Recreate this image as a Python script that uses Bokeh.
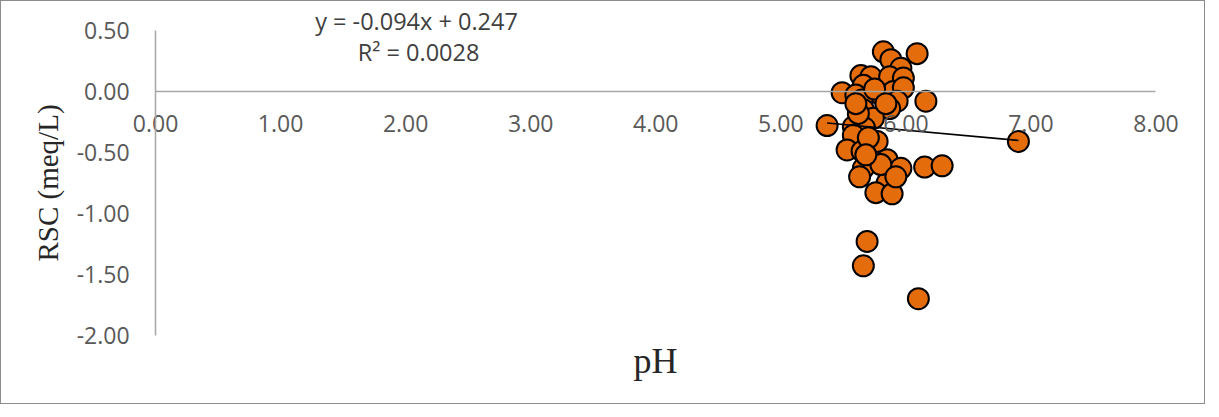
from bokeh.plotting import figure
from bokeh.models import Range1d, Label, Title, FixedTicker, NumeralTickFormatter
from bokeh.embed import file_html
from bokeh.resources import INLINE

# ---- data ----
ph = [5.82, 6.09, 5.88, 5.96, 5.64, 5.72, 5.87, 5.98, 5.66, 5.49,
      5.60, 5.79, 5.90, 5.98, 6.16, 5.93, 5.87, 5.65, 5.66, 5.37,
      5.74, 5.58, 5.67, 5.58, 5.77, 6.90, 5.53, 5.65, 5.85, 5.96,
      6.15, 6.29, 5.66, 5.63, 5.85, 5.76, 5.89, 5.69, 5.66, 6.10,
      5.62, 5.70, 5.80, 5.92, 5.75, 5.84, 5.68, 5.60]
rsc = [0.325, 0.31, 0.26, 0.19, 0.13, 0.12, 0.12, 0.11, 0.05, -0.01,
       -0.03, -0.02, 0.00, 0.03, -0.08, -0.08, -0.14, -0.07, -0.15, -0.28,
       -0.22, -0.29, -0.30, -0.36, -0.41, -0.41, -0.48, -0.49, -0.56, -0.63,
       -0.62, -0.61, -0.63, -0.70, -0.75, -0.83, -0.84, -1.23, -1.43, -1.70,
       -0.18, -0.38, -0.60, -0.70, 0.02, -0.10, -0.52, -0.10]

slope = -0.094
intercept = 0.247
eq_text = "y = -0.094x + 0.247"
r2_text = "R\u00b2 = 0.0028"
x_ticks = [0, 1, 2, 3, 4, 5, 6, 7, 8]
y_ticks = [-2.0, -1.5, -1.0, -0.5, 0.0, 0.5]
x_title = "pH"
y_title = "RSC (meq/L)"

TICK_FONT = "Open Sans"
SERIF = "Liberation Serif"

p = figure(width=1205, height=404, output_backend="svg", toolbar_location=None,
           x_range=Range1d(-1.0, 8.3), y_range=Range1d(-2.1, 0.7377),
           min_border_left=29, min_border_right=13,
           min_border_top=0, min_border_bottom=58)
p.styles = {"border": "1px solid #8c8c8c"}
p.grid.visible = False
p.outline_line_color = None
p.background_fill_color = "white"
p.border_fill_color = "white"

# x axis crossing at y = 0
xa = p.xaxis[0]
xa.fixed_location = 0
xa.bounds = (0, 8)
xa.ticker = FixedTicker(ticks=x_ticks)
xa.formatter = NumeralTickFormatter(format="0.00")
xa.axis_line_color = "#a6a6a6"
xa.axis_line_width = 1.5
xa.major_tick_line_color = None
xa.minor_tick_line_color = None
xa.major_tick_out = 0
xa.major_tick_in = 0
xa.major_label_standoff = 24
xa.major_label_text_font = TICK_FONT
xa.major_label_text_font_size = "23px"
xa.major_label_text_color = "#595959"

# y axis crossing at x = 0
ya = p.yaxis[0]
ya.fixed_location = 0
ya.bounds = (-2, 0.5)
ya.ticker = FixedTicker(ticks=y_ticks)
ya.formatter = NumeralTickFormatter(format="0.00")
ya.axis_line_color = "#a6a6a6"
ya.axis_line_width = 1.5
ya.major_tick_line_color = None
ya.minor_tick_line_color = None
ya.major_tick_out = 0
ya.major_tick_in = 0
ya.major_label_standoff = 26
ya.major_label_text_font = TICK_FONT
ya.major_label_text_font_size = "23px"
ya.major_label_text_color = "#595959"
ya.axis_label = y_title
ya.axis_label_text_font = SERIF
ya.axis_label_text_font_size = "29px"
ya.axis_label_text_font_style = "normal"
ya.axis_label_text_color = "#262626"
ya.axis_label_standoff = 10

p.add_layout(Title(text=x_title, align="left", offset=603, vertical_align="top",
                   text_font=SERIF, text_font_size="36px", text_font_style="normal",
                   text_color="#262626", standoff=-14), "below")

p.scatter(ph, rsc, size=21, fill_color="#e46c0a", line_color="black", line_width=2)

xmin, xmax = min(ph), max(ph)
p.line([xmin, xmax], [slope * xmin + intercept, slope * xmax + intercept],
       line_color="black", line_width=1.5)

p.add_layout(Label(x=2.087, y=0.58, text=eq_text, text_align="center",
                   text_baseline="middle", text_font=TICK_FONT,
                   text_font_size="23.5px", text_color="#404040"))
p.add_layout(Label(x=2.103, y=0.32, text=r2_text, text_align="center",
                   text_baseline="middle", text_font=TICK_FONT,
                   text_font_size="23.5px", text_color="#404040"))

open("out.html", "w").write(file_html(p, INLINE))
